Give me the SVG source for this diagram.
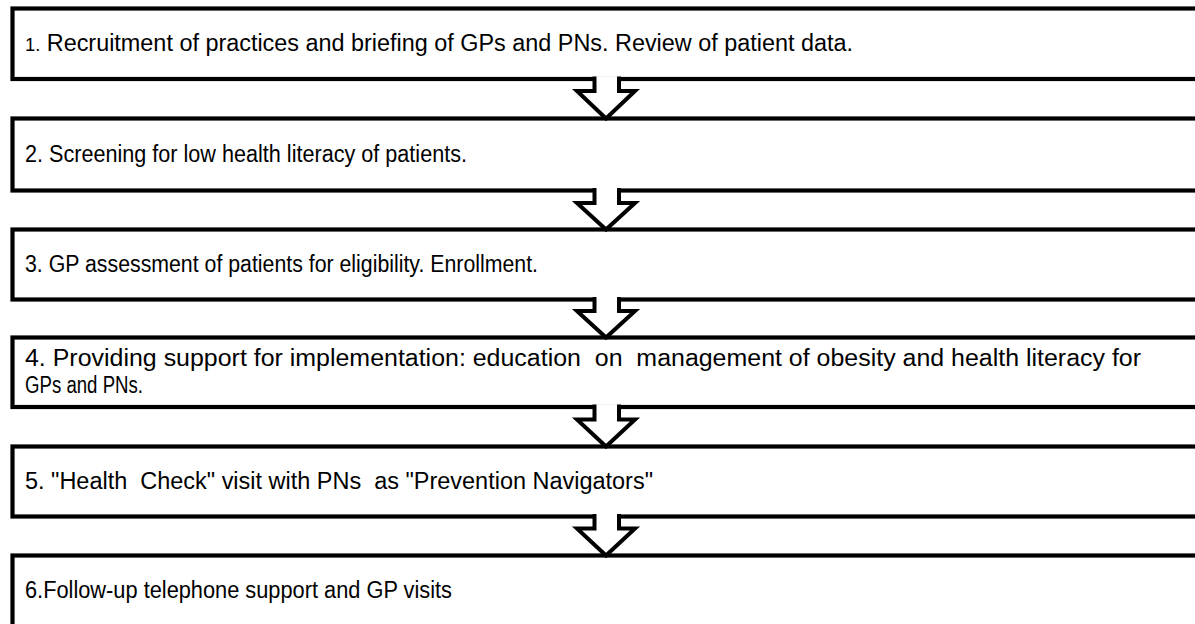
<svg xmlns="http://www.w3.org/2000/svg" width="1195" height="624" viewBox="0 0 1195 624">
  <style>
    .box { fill: #ffffff; stroke: #000000; stroke-width: 4.2; }
    .arrow { fill: #ffffff; stroke: #000000; stroke-width: 4; stroke-linejoin: miter; }
    .label { font-family: "Liberation Sans", "Open Sans", sans-serif; font-size: 23px; fill: #000000; white-space: pre; }
    .num { font-size: 18px; }
  </style>
  <rect width="1195" height="624" fill="#ffffff"/>

  <g id="step1">
    <rect class="box" x="12.5" y="8.5" width="1200" height="70.5"/>
    <text class="label" x="25" y="50.5" textLength="828" lengthAdjust="spacingAndGlyphs"><tspan class="num">1.</tspan> Recruitment of practices and briefing of GPs and PNs. Review of patient data.</text>
  </g>

  <g id="step2">
    <rect class="box" x="12.5" y="118.5" width="1200" height="72"/>
    <text class="label" x="25" y="161.5" textLength="442" lengthAdjust="spacingAndGlyphs">2. Screening for low health literacy of patients.</text>
  </g>

  <g id="step3">
    <rect class="box" x="12.5" y="229.5" width="1200" height="70"/>
    <text class="label" x="25" y="271.5" textLength="513" lengthAdjust="spacingAndGlyphs">3. GP assessment of patients for eligibility. Enrollment.</text>
  </g>

  <g id="step4">
    <rect class="box" x="12.5" y="337.5" width="1200" height="69.5"/>
    <text class="label" x="25" y="365.5" textLength="1116" lengthAdjust="spacingAndGlyphs">4. Providing support for implementation: education  on  management of obesity and health literacy for</text>
    <text class="label" x="25" y="392.5" textLength="118" lengthAdjust="spacingAndGlyphs">GPs and PNs.</text>
  </g>

  <g id="step5">
    <rect class="box" x="12.5" y="446.5" width="1200" height="70"/>
    <text class="label" x="25" y="489" textLength="628" lengthAdjust="spacingAndGlyphs">5. "Health  Check" visit with PNs  as "Prevention Navigators"</text>
  </g>

  <g id="step6">
    <rect class="box" x="12.5" y="555.5" width="1200" height="100"/>
    <text class="label" x="25" y="598" textLength="427" lengthAdjust="spacingAndGlyphs">6.Follow-up telephone support and GP visits</text>
  </g>

  <!-- block arrows between consecutive steps; open at the top so the shaft merges into the box above -->
  <g id="connectors">
    <path class="arrow" d="M594.5,76.5 L594.5,91 L577,91 L606,118.5 L635,91 L619,91 L619,76.5"/>
    <path class="arrow" d="M594.5,188 L594.5,203 L577,203 L606,229.5 L635,203 L619,203 L619,188"/>
    <path class="arrow" d="M594.5,297 L594.5,311 L577,311 L606,337.5 L635,311 L619,311 L619,297"/>
    <path class="arrow" d="M594.5,404.5 L594.5,419.5 L577,419.5 L606,446.5 L635,419.5 L619,419.5 L619,404.5"/>
    <path class="arrow" d="M594.5,514 L594.5,528.5 L577,528.5 L606,555.5 L635,528.5 L619,528.5 L619,514"/>
  </g>
</svg>
